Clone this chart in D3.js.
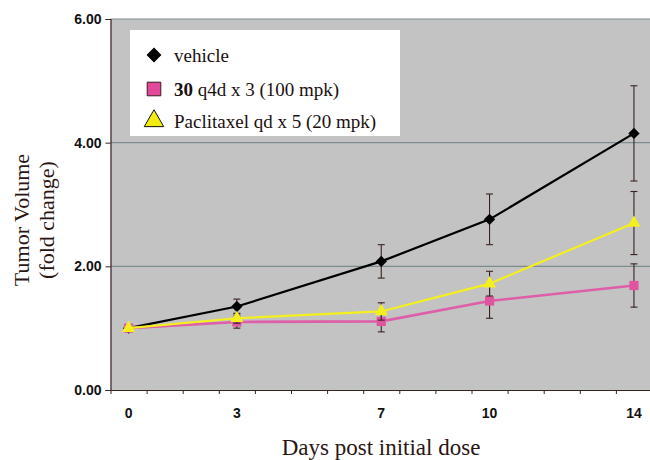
<!DOCTYPE html>
<html><head><meta charset="utf-8">
<script src="https://cdn.jsdelivr.net/npm/d3@7"></script>
<style>body{margin:0;background:#fff}svg{display:block}</style>
</head><body>
<svg id="c" width="650" height="460"></svg>
<script>
const days = [0, 3, 7, 10, 14];
const vehicle = [1.00, 1.35, 2.08, 2.76, 4.15];
const vehicleErr = [0, 0.12, 0.27, 0.41, 0.77];
const cmpd30 = [1.00, 1.10, 1.11, 1.44, 1.69];
const cmpd30Err = [0, 0.10, 0.17, 0.28, 0.35];
const paclitaxel = [1.00, 1.16, 1.27, 1.72, 2.70];
const paclitaxelErr = [0, 0.08, 0.14, 0.20, 0.51];
const yTicks = [0, 2, 4, 6];
const xTickLabels = ["0", "3", "7", "10", "14"];

const svg = d3.select("#c");
const L = 110.5, R = 652, T = 19, B = 390;
const x = d3.scaleLinear().domain([-0.5, 14.5]).range([L, R]);
const y = d3.scaleLinear().domain([0, 6]).range([B, T]);

svg.append("rect").attr("x", L).attr("y", T).attr("width", R - L).attr("height", B - T).attr("fill", "#c3c3c3");

// gridlines
svg.append("g").selectAll("line").data([2, 4, 6]).join("line")
  .attr("x1", L).attr("x2", R).attr("y1", d => y(d)).attr("y2", d => y(d))
  .attr("stroke", "#7c8c8e").attr("stroke-width", 1.2);

// y axis
const yAxis = svg.append("g").attr("transform", `translate(${L},0)`)
  .call(d3.axisLeft(y).tickValues(yTicks).tickFormat(d3.format(".2f")).tickSize(5).tickPadding(4));
yAxis.select(".domain").attr("stroke", "#3a2422").attr("stroke-width", 1.2);
yAxis.selectAll(".tick line").attr("stroke", "#3a2422");
yAxis.selectAll("text").attr("font-family", "Liberation Sans, Arial, sans-serif").attr("font-weight", "bold").attr("font-size", 14).attr("fill", "#111");

// x axis: category ticks between days
const xAxis = svg.append("g").attr("transform", `translate(0,${B})`)
  .call(d3.axisBottom(x).tickValues(d3.range(-0.5, 14.6, 1)).tickFormat("").tickSizeInner(4).tickSizeOuter(0));
xAxis.select(".domain").attr("stroke", "#3a2422").attr("stroke-width", 1.2);
xAxis.selectAll(".tick line").attr("stroke", "#3a2422");
svg.append("g").selectAll("text").data(days).join("text")
  .attr("x", d => x(d)).attr("y", 418).attr("text-anchor", "middle")
  .attr("font-family", "Liberation Sans, Arial, sans-serif").attr("font-weight", "bold").attr("font-size", 14).attr("fill", "#111")
  .text((d, i) => xTickLabels[i]);

// axis titles
svg.append("text").attr("x", 381).attr("y", 455).attr("text-anchor", "middle")
  .attr("font-family", "Liberation Serif, Times New Roman, serif").attr("font-size", 23).attr("fill", "#2a1512")
  .text("Days post initial dose");
const yt = svg.append("text").attr("transform", "translate(0,220) rotate(-90)").attr("text-anchor", "middle")
  .attr("font-family", "Liberation Serif, Times New Roman, serif").attr("font-size", 22).attr("fill", "#2a1512");
yt.append("tspan").attr("x", 0).attr("y", 29).text("Tumor Volume");
yt.append("tspan").attr("x", 0).attr("y", 54).text("(fold change)");

const diamond = d3.symbol().type(d3.symbolSquare);
const series = [
  {vals: vehicle, err: vehicleErr, line: "#000", fill: "#000", shape: d3.symbolSquare, size: 64, rot: 45, w: 2.2},
  {vals: cmpd30, err: cmpd30Err, line: "#df5ea9", fill: "#df559f", shape: d3.symbolSquare, size: 85, rot: 0, w: 2.6},
  {vals: paclitaxel, err: paclitaxelErr, line: "#f4ef1e", fill: "#f4ef1e", shape: d3.symbolTriangle, size: 75, rot: 0, w: 2.2}
];
const line = d3.line().x((d, i) => x(days[i])).y(d => y(d));
series.forEach(s => {
  const g = svg.append("g");
  days.forEach((d, i) => {
    if (!s.err[i]) return;
    const cx = x(d), y1 = y(s.vals[i] + s.err[i]), y2 = y(s.vals[i] - s.err[i]);
    g.append("line").attr("x1", cx).attr("x2", cx).attr("y1", y1).attr("y2", y2).attr("stroke", "#3a2220").attr("stroke-width", 1.1);
    [y1, y2].forEach(yy => g.append("line").attr("x1", cx - 3.5).attr("x2", cx + 3.5).attr("y1", yy).attr("y2", yy).attr("stroke", "#3a2220").attr("stroke-width", 1.1));
  });
  g.append("path").datum(s.vals).attr("d", line).attr("fill", "none").attr("stroke", s.line).attr("stroke-width", s.w);
  g.selectAll("path.m").data(s.vals).join("path").attr("class", "m")
    .attr("transform", (d, i) => `translate(${x(days[i])},${y(d)}) rotate(${s.rot})`)
    .attr("d", d3.symbol().type(s.shape).size(s.size)).attr("fill", s.fill);
});

// legend
const lg = svg.append("g");
lg.append("rect").attr("x", 130).attr("y", 30).attr("width", 270).attr("height", 106).attr("fill", "#fff");
const items = [
  {shape: d3.symbolSquare, fill: "#000", stroke: "#000", size: 90, rot: 45, y: 55},
  {shape: d3.symbolSquare, fill: "#e3489a", stroke: "#3a1a1a", size: 185, rot: 0, y: 89},
  {shape: d3.symbolTriangle, fill: "#f2ec10", stroke: "#111", size: 165, rot: 0, y: 121}
];
items.forEach(it => {
  lg.append("path").attr("transform", `translate(154,${it.y}) rotate(${it.rot})`).attr("d", d3.symbol().type(it.shape).size(it.size))
    .attr("fill", it.fill).attr("stroke", it.stroke).attr("stroke-width", 1);
});
const ltxt = (yy) => lg.append("text").attr("x", 174).attr("y", yy).attr("font-family", "Liberation Serif, Times New Roman, serif").attr("font-size", 19).attr("fill", "#1a1010");
ltxt(62).text("vehicle");
const t2 = ltxt(96);
t2.append("tspan").attr("font-weight", "bold").text("30");
t2.append("tspan").text(" q4d x 3 (100 mpk)");
ltxt(128).text("Paclitaxel qd x 5 (20 mpk)");
</script>
</body></html>
